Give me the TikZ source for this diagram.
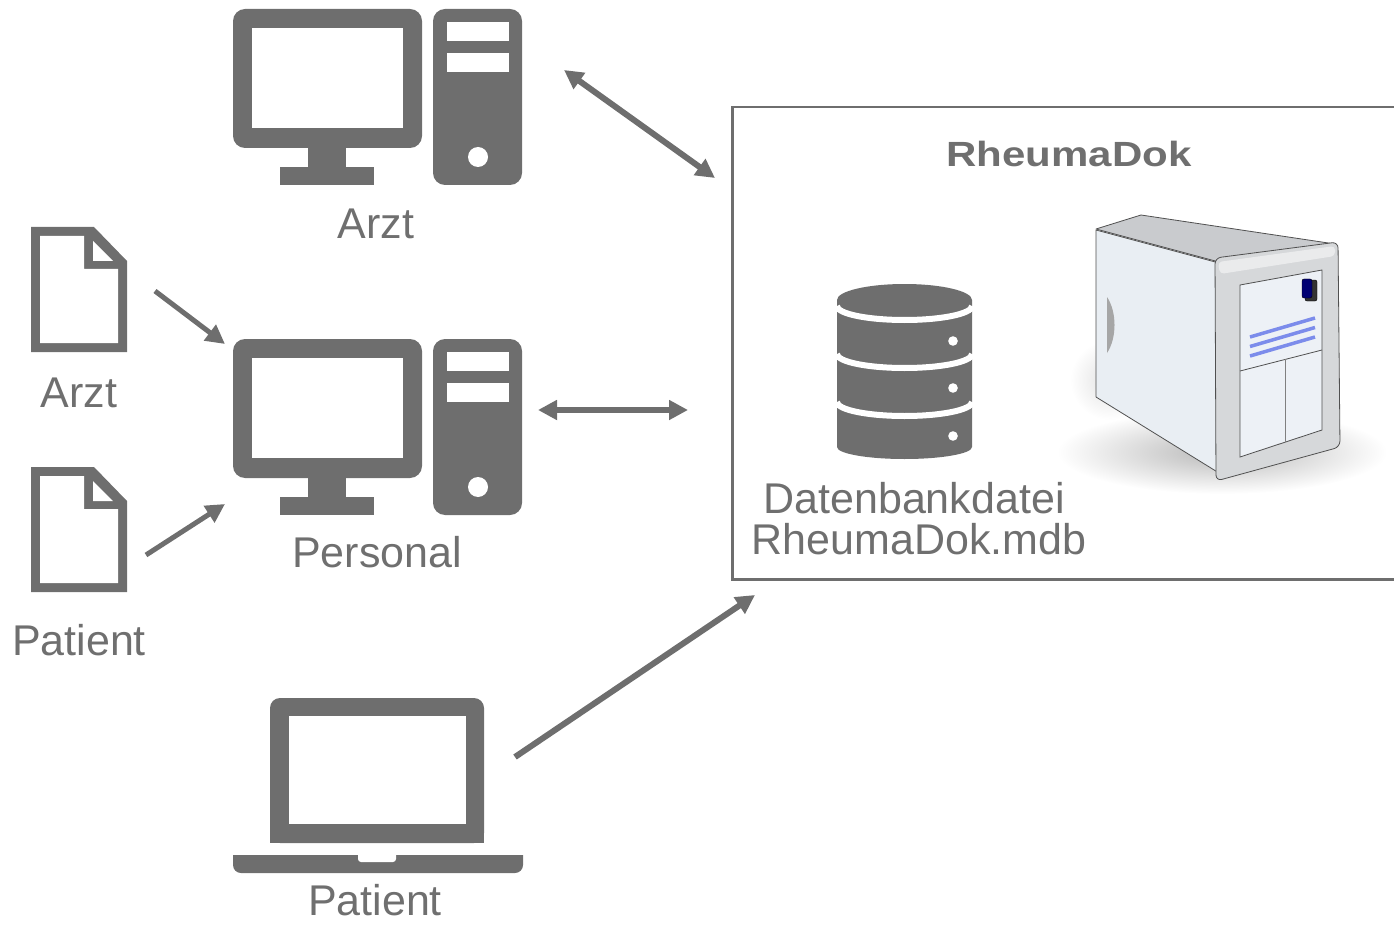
\documentclass[tikz,border=0pt]{standalone}
\usepackage{fontspec}
\setmainfont{Liberation Sans}
\usetikzlibrary{arrows.meta}
\definecolor{icongray}{HTML}{6E6E6E}
\definecolor{textgray}{HTML}{6F6F6F}
\definecolor{srvline}{HTML}{505050}
\definecolor{srvside}{HTML}{E9EEF3}
\definecolor{srvtop}{HTML}{C9CBCE}
\definecolor{srvbezel}{HTML}{D6D8DA}
\definecolor{srvpanel}{HTML}{EDF1F6}
\definecolor{srvblue}{HTML}{7C8CEB}
\begin{document}
\begin{tikzpicture}[x=1pt,y=-1pt,
  label/.style={text=textgray, font=\fontsize{43}{46}\selectfont, anchor=base, inner sep=0pt},
  link/.style={draw=icongray, line width=6pt, -{Triangle[length=19pt,width=19pt]}},
  dlink/.style={link, {Triangle[length=19pt,width=19pt]}-{Triangle[length=19pt,width=19pt]}},
  doclink/.style={link, line width=5pt},
  desktop/.pic={
    \fill[icongray, rounded corners=12pt] (0,0) rectangle (189,139);
    \fill[white] (19,19) rectangle (170,119);
    \fill[icongray] (75,138) rectangle (113,159);
    \fill[icongray] (47,158) rectangle (141,176);
    \fill[icongray, rounded corners=12pt] (200,0) rectangle (289,176);
    \fill[white] (214,13) rectangle (276,32);
    \fill[white] (214,44) rectangle (276,63);
    \fill[white] (245,148) circle[radius=10];
  },
  laptop/.pic={
    \fill[icongray, rounded corners=10pt] (37,145) -- (37,0) -- (251,0) -- (251,145) -- cycle;
    \fill[icongray] (37,130) rectangle (251,145);
    \fill[white] (56,18) rectangle (233,126);
    \fill[icongray, rounded corners=8pt] (0,157) -- (0,175) -- (290,175) -- (290,157);
    \fill[icongray] (0,157) rectangle (290,166);
    \fill[white, rounded corners=3pt] (125,155) -- (125,164) -- (163,164) -- (163,155);
    \fill[white] (125,155) rectangle (163,159);
  },
  document/.pic={
    \fill[icongray] (0,0) -- (63,0) -- (96,34) -- (96,125) -- (0,125) -- cycle;
    \fill[white] (9,9) -- (53,9) -- (53,42) -- (87,42) -- (87,116) -- (9,116) -- cycle;
    \fill[white] (62,14) -- (62,34) -- (82,34) -- cycle;
  }]
\path[use as bounding box] (0,0) rectangle (1394,925);
\clip (0,0) rectangle (1394,925);

% RheumaDok system frame
\node[draw=icongray, line width=2.5pt, anchor=north west, inner sep=0pt,
      minimum width=690pt, minimum height=472pt] (system) at (731,106) {};
\node[text=textgray, anchor=base, inner sep=0pt] (systitle) at (1069,167)
  {\scalebox{1.2}[1]{\fontsize{35}{40}\bfseries\selectfont RheumaDok}};

% workstations
\pic at (233,9) {desktop};
\node[label] (arztlabel) at (376,239) {Arzt};
\pic at (233,339) {desktop};
\node[label] (personallabel) at (377,567) {Personal};
\pic at (233,698) {laptop};
\node[label] (patientlabel) at (375,915) {Patient};

% paper forms
\pic at (31,227) {document};
\node[label] (docarzt) at (79,407) {Arzt};
\pic at (31,467) {document};
\node[label] (docpatient) at (79,655) {Patient};

% database cylinder
\fill[icongray] (837,300) -- (837,447) arc[start angle=180, end angle=0, x radius=67.5, y radius=12]
  -- (972,300) arc[start angle=0, end angle=-180, x radius=67.5, y radius=16] -- cycle;
\foreach \yy in {306,354,402}
  \draw[white, line width=6pt] (837,\yy) arc[start angle=180, end angle=0, x radius=67.5, y radius=14];
\foreach \yy in {341,388,436}
  \fill[white] (953,\yy) circle[radius=4.8];
\node[label] (dbfile1) at (914,513) {Datenbankdatei};
\node[label] (dbfile2) at (919,554) {RheumaDok.mdb};

% server tower
\shade[inner color=black!28, outer color=white] (1222,452) ellipse[x radius=165, y radius=42];
\shade[inner color=black!12, outer color=white] (1110,380) ellipse[x radius=40, y radius=40];
\filldraw[fill=srvtop, draw=srvline, line width=0.8pt, line join=round]
  (1096,229) -- (1141,215) -- (1335,244) -- (1219,262) -- cycle;
\filldraw[fill=srvside, draw=srvline, line width=0.8pt, line join=round]
  (1096,230) -- (1219,263) -- (1219,473) -- (1096,397) -- cycle;
\fill[gray!70] (1107,297) .. controls (1117,312) and (1117,338) .. (1107,353) -- cycle;
\filldraw[fill=srvbezel, draw=srvline, line width=0.8pt, rounded corners=6pt]
  (1215,258) -- (1338,242) -- (1340,447) -- (1216,481) -- cycle;
\fill[white, opacity=0.5, rounded corners=4pt] (1218,262) -- (1335,246) -- (1335,256) -- (1220,274) -- cycle;
\filldraw[fill=srvpanel, draw=srvline, line width=0.8pt]
  (1240,285) -- (1322,270) -- (1322,430) -- (1240,457) -- cycle;
\draw[srvline, line width=0.8pt] (1240,371) -- (1322,350);
\draw[gray, line width=0.8pt] (1285,359) -- (1285,442);
\foreach \dd in {0,9.5,19}
  \draw[srvblue, line width=3.5pt] (1250,337+\dd) -- (1315,318+\dd);
\filldraw[fill=black!80, draw=black, rounded corners=2pt] (1305,280) rectangle (1317,301);
\filldraw[fill=blue!45!black, draw=black, rounded corners=2pt] (1302,279) rectangle (1312,298);

% connections
\coordinate (arzt-out) at (564,70);
\coordinate (sys-arzt) at (715,178);
\coordinate (pers-out) at (538,410);
\coordinate (sys-pers) at (688,410);
\coordinate (pat-out) at (515,757);
\coordinate (sys-pat) at (755,595);
\coordinate (docarzt-out) at (155,291);
\coordinate (pers-docarzt) at (225,344);
\coordinate (docpat-out) at (146,555);
\coordinate (pers-docpat) at (225,504);

\draw[dlink] (arzt-out) -- (sys-arzt);
\draw[dlink] (pers-out) -- (sys-pers);
\draw[link] (pat-out) -- (sys-pat);
\draw[doclink] (docarzt-out) -- (pers-docarzt);
\draw[doclink] (docpat-out) -- (pers-docpat);
\end{tikzpicture}
\end{document}
